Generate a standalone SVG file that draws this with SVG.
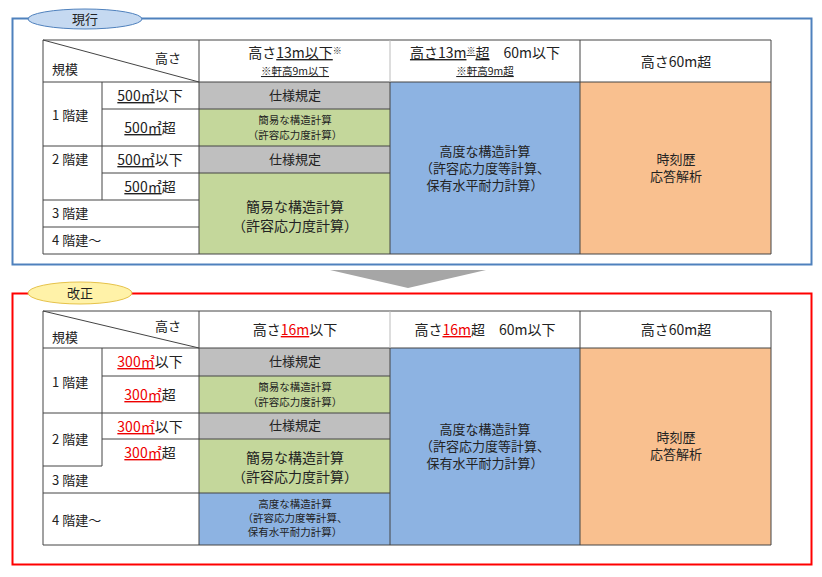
<svg xmlns="http://www.w3.org/2000/svg" width="822" height="577" viewBox="0 0 822 577">
<style>
text{font-family:"Noto Sans CJK JP","Liberation Sans",sans-serif;fill:#222;text-anchor:middle}
.b{font-size:14px}.m{font-size:13px}.s{font-size:10.5px}.l{text-anchor:start}
.g{fill:#bfbfbf}.gr{fill:#c4d79b}.bl{fill:#8db3e2}.or{fill:#f9c08f}
.c{stroke:#444;stroke-width:1;fill:none}
.r{fill:#e00}
</style>
<rect x="0" y="0" width="822" height="577" fill="#fff"/>
<g id="frame-current">
<rect x="12.5" y="18.5" width="799" height="246" fill="#fff" stroke="#4f81bd" stroke-width="2"/>
<ellipse cx="85" cy="19" rx="57" ry="10" fill="#c5d9f1" stroke="#4f81bd"/>
<text x="85" y="24" class="m">現行</text>
</g>
<g id="table-current">
<rect x="199" y="82" width="191" height="27" class="g"/>
<rect x="199" y="109" width="191" height="37" class="gr"/>
<rect x="199" y="146" width="191" height="27" class="g"/>
<rect x="199" y="173" width="191" height="81" class="gr"/>
<rect x="390" y="82" width="190" height="172" class="bl"/>
<rect x="580" y="82" width="191" height="172" class="or"/>
<path class="c" d="M43 40H771V254H43Z M43 82H771 M102 109H390 M43 146H390 M102 173H390 M43 200H199 M43 227H199 M102 82V200 M199 40V254 M580 40V254 M43 40L199 82"/>
<line x1="390" y1="40" x2="390" y2="82" stroke="#bbb"/>
<line x1="390" y1="82" x2="390" y2="254" stroke="#444"/>
<text x="168" y="63" class="m">高さ</text><text x="52" y="74" class="m l">規模</text>
<text x="295" y="58" class="b">高さ<tspan text-decoration="underline">13m以下</tspan><tspan font-size="9" dy="-4">※</tspan></text>
<text x="295" y="75" class="s" text-decoration="underline">※軒高9m以下</text>
<text x="485" y="58" class="b"><tspan text-decoration="underline">高さ13m<tspan font-size="9" dy="-4">※</tspan><tspan dy="4">超</tspan></tspan>　60m以下</text>
<text x="485" y="75" class="s" text-decoration="underline">※軒高9m超</text>
<text x="676" y="67" class="b">高さ60m超</text>
<text x="52" y="120" class="m l">1 階建</text><text x="52" y="164" class="m l">2 階建</text>
<text x="52" y="218" class="m l">3 階建</text><text x="52" y="245" class="m l">4 階建～</text>
<text x="150" y="101" class="b"><tspan text-decoration="underline">500㎡</tspan>以下</text>
<text x="150" y="133" class="b"><tspan text-decoration="underline">500㎡</tspan>超</text>
<text x="150" y="165" class="b"><tspan text-decoration="underline">500㎡</tspan>以下</text>
<text x="150" y="192" class="b"><tspan text-decoration="underline">500㎡</tspan>超</text>
<text x="295" y="100" class="m">仕様規定</text>
<text x="295" y="124" class="s">簡易な構造計算</text><text x="295" y="139" class="s">（許容応力度計算）</text>
<text x="295" y="164" class="m">仕様規定</text>
<text x="295" y="212" class="b">簡易な構造計算</text><text x="295" y="231" class="b">（許容応力度計算）</text>
<text x="485" y="156" class="m">高度な構造計算</text><text x="485" y="173" class="m">（許容応力度等計算、</text><text x="485" y="190" class="m">保有水平耐力計算）</text>
<text x="676" y="164" class="m">時刻歴</text><text x="676" y="181" class="m">応答解析</text>
</g>
<g id="arrow"><path d="M330 270H486L408 288Z" fill="#a6a6a6"/></g>
<g id="frame-revised">
<rect x="12.5" y="293.5" width="799" height="271" fill="#fff" stroke="#f00" stroke-width="2"/>
<ellipse cx="80" cy="293" rx="52" ry="11" fill="#fff2a8" stroke="#e6c24a"/>
<text x="80" y="298" class="m">改正</text>
</g>
<g id="table-revised">
<rect x="199" y="348" width="191" height="28" class="g"/>
<rect x="199" y="376" width="191" height="37" class="gr"/>
<rect x="199" y="413" width="191" height="26" class="g"/>
<rect x="199" y="439" width="191" height="54" class="gr"/>
<rect x="199" y="493" width="191" height="52" class="bl"/>
<rect x="390" y="348" width="190" height="197" class="bl"/>
<rect x="580" y="348" width="191" height="197" class="or"/>
<path class="c" d="M43 311H771V545H43Z M43 348H771 M102 376H390 M43 413H390 M102 439H390 M43 466H102 M43 493H390 M102 348V466 M199 311V545 M580 311V545 M43 311L199 348"/>
<line x1="390" y1="311" x2="390" y2="348" stroke="#bbb"/>
<line x1="390" y1="348" x2="390" y2="545" stroke="#444"/>
<text x="168" y="331" class="m">高さ</text><text x="52" y="342" class="m l">規模</text>
<text x="295" y="335" class="b">高さ<tspan class="r" text-decoration="underline">16m</tspan>以下</text>
<text x="485" y="335" class="b">高さ<tspan class="r" text-decoration="underline">16m</tspan>超　60m以下</text>
<text x="676" y="335" class="b">高さ60m超</text>
<text x="52" y="387" class="m l">1 階建</text><text x="52" y="444" class="m l">2 階建</text>
<text x="52" y="485" class="m l">3 階建</text><text x="52" y="525" class="m l">4 階建～</text>
<text x="150" y="367" class="b"><tspan class="r" text-decoration="underline">300㎡</tspan>以下</text>
<text x="150" y="400" class="b"><tspan class="r" text-decoration="underline">300㎡</tspan>超</text>
<text x="150" y="432" class="b"><tspan class="r" text-decoration="underline">300㎡</tspan>以下</text>
<text x="150" y="458" class="b"><tspan class="r" text-decoration="underline">300㎡</tspan>超</text>
<text x="295" y="366" class="m">仕様規定</text>
<text x="295" y="391" class="s">簡易な構造計算</text><text x="295" y="406" class="s">（許容応力度計算）</text>
<text x="295" y="430" class="m">仕様規定</text>
<text x="295" y="463" class="b">簡易な構造計算</text><text x="295" y="482" class="b">（許容応力度計算）</text>
<text x="295" y="508" class="s">高度な構造計算</text><text x="295" y="522" class="s">（許容応力度等計算、</text><text x="295" y="536" class="s">保有水平耐力計算）</text>
<text x="485" y="434" class="m">高度な構造計算</text><text x="485" y="451" class="m">（許容応力度等計算、</text><text x="485" y="468" class="m">保有水平耐力計算）</text>
<text x="676" y="442" class="m">時刻歴</text><text x="676" y="459" class="m">応答解析</text>
</g>
</svg>
